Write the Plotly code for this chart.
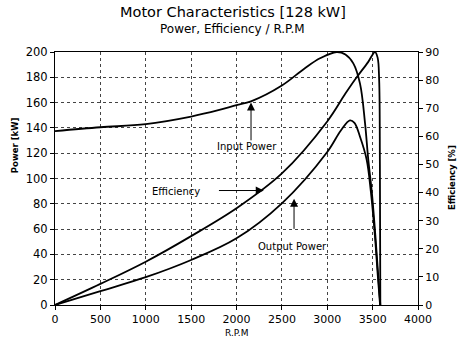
import plotly.graph_objects as go

# ---- data ----
rpm_input = [0, 500, 1000, 1500, 1800, 2000, 2160, 2500, 2750, 2920, 3104, 3200, 3287, 3361, 3416, 3452, 3490, 3530, 3560, 3585]
input_kw = [137.5, 140.5, 143, 149, 154, 158, 161, 173.5, 187, 195, 200, 198, 191, 175, 144, 115, 90, 55, 25, 0]

rpm_output = [0, 500, 1000, 1500, 2000, 2500, 3000, 3150, 3250, 3300, 3361, 3434, 3480, 3525, 3555, 3582]
output_kw = [0, 11, 22, 35.6, 52.7, 80.4, 121, 138, 146, 144, 133, 115, 90, 55, 25, 0]

rpm_eff = [0, 500, 1000, 1500, 2000, 2500, 3000, 3200, 3324, 3450, 3526, 3555, 3572, 3580, 3585]
eff_pct = [0, 7.5, 15.4, 24.5, 34.4, 46.8, 65.3, 75.2, 81, 86.4, 90, 88, 80, 50, 0]

x_ticks = [0, 500, 1000, 1500, 2000, 2500, 3000, 3500, 4000]
y_ticks = [0, 20, 40, 60, 80, 100, 120, 140, 160, 180, 200]
y2_ticks = [0, 10, 20, 30, 40, 50, 60, 70, 80, 90]

FONT = "DejaVu Sans"
line_style = dict(color="black", width=1.8, shape="spline", smoothing=1.0)

fig = go.Figure()
fig.add_trace(go.Scatter(x=rpm_input, y=input_kw, mode="lines", line=line_style, name="Input Power"))
fig.add_trace(go.Scatter(x=rpm_output, y=output_kw, mode="lines", line=line_style, name="Output Power"))
fig.add_trace(go.Scatter(x=rpm_eff, y=eff_pct, mode="lines", line=line_style, name="Efficiency", yaxis="y2"))

grid = dict(showgrid=True, gridcolor="#444", gridwidth=1, griddash="dot")

fig.update_layout(
    width=467, height=340,
    margin=dict(l=55, r=49, t=52, b=35),
    paper_bgcolor="white", plot_bgcolor="white",
    showlegend=False,
    font=dict(family=FONT, color="black", size=11),
    xaxis=dict(range=[0, 4000], tickvals=x_ticks, showline=True, linecolor="black", linewidth=1,
               mirror=True, ticks="outside", ticklen=4, tickcolor="black", zeroline=False,
               tickfont=dict(size=11), **grid),
    yaxis=dict(range=[0, 200], tickvals=y_ticks, showline=True, linecolor="black", linewidth=1,
               ticks="outside", ticklen=4, tickcolor="black", zeroline=False,
               tickfont=dict(size=11.5), **grid),
    yaxis2=dict(range=[0, 90], tickvals=y2_ticks, overlaying="y", side="right", showline=True,
                linecolor="black", linewidth=1, ticks="outside", ticklen=4, tickcolor="black",
                showgrid=False, zeroline=False, tickfont=dict(size=11)),
)

def lbl(text, x, y, size=10, **kw):
    fig.add_annotation(text=text, x=x, y=y, xref="x", yref="y", showarrow=False,
                       font=dict(size=size, family=FONT), **kw)

def arrow(x, y, ax, ay):
    fig.add_annotation(text="", x=x, y=y, ax=ax, ay=ay, xref="x", yref="y", axref="x", ayref="y",
                       showarrow=True, arrowhead=2, arrowsize=1.6, arrowwidth=1, arrowcolor="black")

lbl("Input Power", 2116, 125)
arrow(2160, 160, 2160, 129)
lbl("Efficiency", 1333, 90)
arrow(2300, 90.5, 1790, 90.5)
lbl("Output Power", 2617, 46)
arrow(2634, 84, 2634, 59)

def plbl(text, x, y, size, angle=0, bold=False):
    fig.add_annotation(text=f"<b>{text}</b>" if bold else text, x=x, y=y, xref="paper", yref="paper",
                       showarrow=False, textangle=angle, xanchor="center", yanchor="middle",
                       borderpad=0, font=dict(size=size, family=FONT))

plbl("Motor Characteristics [128 kW]", 0.49, (305 - 12) / 253, 14.5)
plbl("Power, Efficiency / R.P.M", 0.49, (305 - 28.5) / 253, 12)
plbl("Power [kW]", -0.110, 0.632, 8.5, angle=-90, bold=True)
plbl("Efficiency [%]", 1.094, 0.502, 8.5, angle=-90, bold=True)
plbl("R.P.M", 0.501, -0.111, 9)

fig.write_html("out.html", config={"displayModeBar": False},
               post_script="document.body.style.margin='0';")
